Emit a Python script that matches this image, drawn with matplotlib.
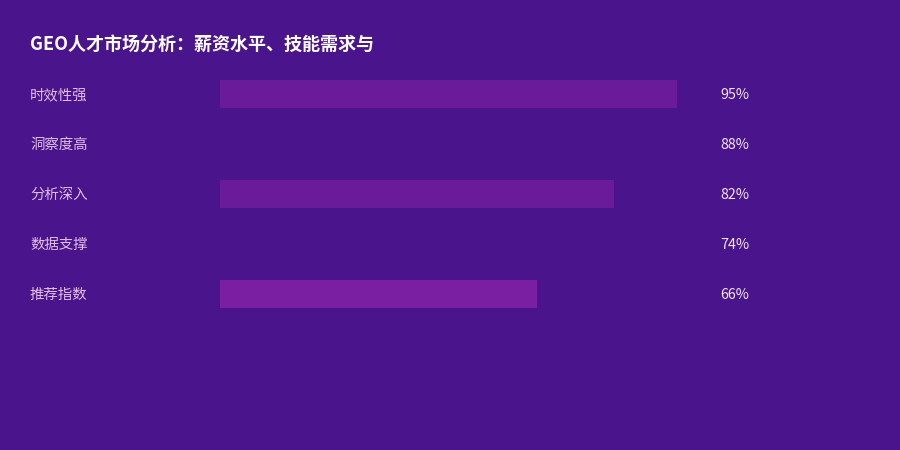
import matplotlib
matplotlib.use('Agg')
import matplotlib.pyplot as plt
from matplotlib.transforms import blended_transform_factory

plt.rcParams['font.family'] = ['Noto Sans CJK SC', 'DejaVu Sans']

# data
title = 'GEO人才市场分析：薪资水平、技能需求与'
categories = ['时效性强', '洞察度高', '分析深入', '数据支撑', '推荐指数']
values = [95, 88, 82, 74, 66]
bar_colors = ['#6a1b9a', '#4a148c', '#6a1b9a', '#4a148c', '#7b1fa2']

BG = '#4a148c'

fig = plt.figure(figsize=(9, 4.5), dpi=100, facecolor=BG)
# axes spans x 220..701 px, rows 69..319 px
ax = fig.add_axes([220 / 900, 1 - 319 / 450, 481 / 900, 250 / 450])
ax.set_facecolor(BG)

ypos = list(range(len(categories)))
ax.barh(ypos, values, height=0.56, color=bar_colors, edgecolor='none')
ax.set_xlim(0, 100)
ax.set_ylim(len(categories) - 0.5, -0.5)
ax.axis('off')

tr = blended_transform_factory(fig.transFigure, ax.transData)
for y, cat, v in zip(ypos, categories, values):
    fig.text(30 / 900, y + 0.02, cat, transform=tr, ha='left', va='center',
             fontsize=10.4, color='#e1bee7')
    fig.text(720 / 900, y + 0.02, f'{v}%', transform=tr, ha='left', va='center',
             fontsize=10.3, color='#f3e5f5')

fig.text(30 / 900, 1 - 44 / 450, title, ha='left', va='center',
         fontsize=13, fontweight='bold', color='white')

fig.savefig('out.png', dpi=100, facecolor=BG)
